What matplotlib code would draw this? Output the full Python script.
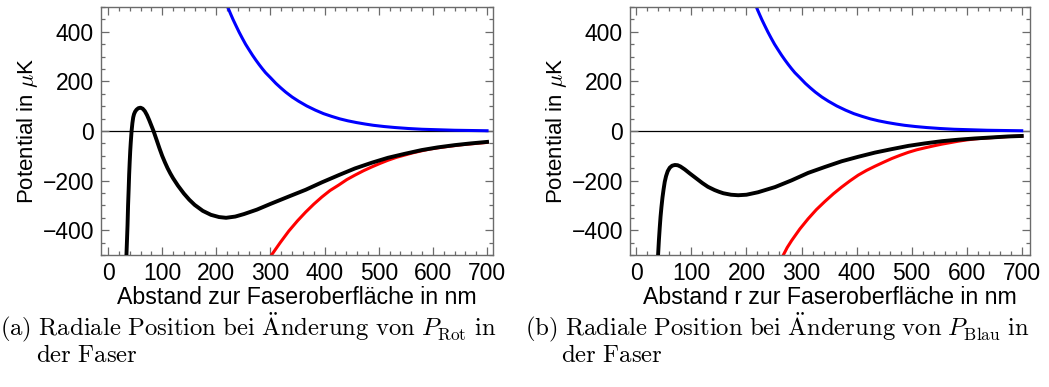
import numpy as np
import matplotlib.pyplot as plt
from matplotlib.ticker import MultipleLocator

# values, distance in nm, potential in microkelvin
# (a) variation of P_Rot
a_black_x = [34, 35, 36, 37, 38, 39, 40, 41, 42, 43.5, 45, 46.5, 48, 50, 52.6, 56, 60, 64, 68, 72,
             76, 80, 84, 90, 95, 100, 105, 110, 115, 120, 129, 140, 150, 160, 175, 190, 205, 218,
             235, 251, 275, 300, 334, 365, 395, 426, 456, 487, 517, 548, 579, 609, 640, 670, 700]
a_black_y = [-500, -440, -380, -300, -240, -175, -125, -80, -45, 0, 32, 55, 68, 78, 86, 92, 94, 90,
             80, 64, 44, 22, 0, -38, -70, -100, -126, -150, -171, -190, -220, -252, -277, -298,
             -322, -338, -347, -350, -345, -335, -317, -294, -264, -237, -207, -178, -151, -128,
             -108, -92, -77, -66, -57, -50, -44]
a_red_x = [302, 318, 334, 350, 365, 380, 395, 410, 426, 441, 456, 472, 487, 502, 517, 533, 548, 563,
           579, 594, 609, 625, 640, 655, 670, 685, 700]
a_red_y = [-500, -450, -403, -362, -327, -295, -266, -240, -218, -196, -178, -160, -145, -131, -118,
           -106, -97, -88, -80, -73, -68, -63, -59, -55, -52, -49, -46]
a_blue_x = [221, 226, 231, 236, 242, 248, 254, 260, 267, 273, 279, 285, 291, 300, 310, 319, 328, 340,
            352, 367, 383, 398, 413, 428, 443, 459, 475, 490, 510, 530, 555, 580, 610, 640, 670, 700]
a_blue_y = [500, 474, 449, 426, 399, 374, 350, 329, 305, 286, 268, 251, 235, 215, 192, 174, 157, 137,
            120, 101, 84, 70, 59, 49, 41, 34, 28, 23, 18, 14, 10, 7, 5, 3, 2, 1]

# (b) variation of P_Blau
b_black_x = [39.5, 41, 42.5, 44, 45.6, 47.5, 49.5, 51.6, 54, 57, 60.7, 65, 70, 75, 80, 88, 97, 110,
             120, 130, 142, 150, 158, 172, 185, 200, 221, 252, 282, 312, 342.5, 373, 403, 433.5,
             464, 494, 524, 555, 585, 615, 645, 675, 700]
b_black_y = [-500, -440, -390, -345, -307, -268, -235, -205, -182, -162, -148, -140, -137, -138,
             -143, -155, -171, -193, -210, -225, -238, -245, -251, -257, -259, -257, -247, -226,
             -199, -169, -145, -122, -104, -87, -73, -60, -50, -41, -35, -30, -26, -22, -20]
b_red_x = [267, 274, 282, 297, 312, 327, 342.5, 358, 373, 388, 403, 418, 433.5, 449, 464, 479, 494,
           509, 524, 540, 555, 570, 585, 600, 615, 630, 645, 670, 700]
b_red_y = [-500, -470, -442, -395, -354, -317, -284, -253, -226, -201, -178, -159, -142, -126, -111,
           -98, -86, -76, -68, -60, -53, -47, -41, -36, -32, -29, -27, -23, -20]
b_blue_x = [218, 223, 228, 233, 239, 245, 251, 257, 264, 270, 276, 282, 288, 297, 307, 316, 325, 337,
            349, 364, 380, 395, 410, 425, 440, 456, 472, 487, 507, 527, 552, 577, 607, 637, 667, 700]
b_blue_y = [500, 474, 449, 426, 399, 374, 350, 329, 305, 286, 268, 251, 235, 215, 192, 174, 157, 137,
            120, 101, 84, 70, 59, 49, 41, 34, 28, 23, 18, 14, 10, 7, 5, 3, 2, 1]

xlabels = ['Abstand zur Faseroberfläche in nm', 'Abstand r zur Faseroberfläche in nm']
cap_line1 = [r'$\mathrm{(a)\ Radiale\ Position\ bei\ \ddot{A}nderung\ von\ }P_{\mathrm{Rot}}\mathrm{\ in}$',
             r'$\mathrm{(b)\ Radiale\ Position\ bei\ \ddot{A}nderung\ von\ }P_{\mathrm{Blau}}\mathrm{\ in}$']
cap_line2 = r'$\mathrm{der\ Faser}$'

plt.rcParams['font.family'] = ['Liberation Sans', 'DejaVu Sans']
plt.rcParams['mathtext.fontset'] = 'cm'

fig = plt.figure(figsize=(10.49, 3.87), dpi=100)
W, H = 1049.0, 387.0

def frame_axes(x0, x1, y0, y1):
    return fig.add_axes([x0 / W, 1 - y1 / H, (x1 - x0) / W, (y1 - y0) / H])

ax_a = frame_axes(101, 493, 7, 255)
ax_b = frame_axes(630, 1030, 7, 255)

panels = [
    (ax_a, a_black_x, a_black_y, a_red_x, a_red_y, a_blue_x, a_blue_y, (-13, 711)),
    (ax_b, b_black_x, b_black_y, b_red_x, b_red_y, b_blue_x, b_blue_y, (-11.5, 715)),
]

frame_col = '#6b6b6b'
for i, (ax, kx, ky, rx, ry, bx, by, xl) in enumerate(panels):
    ax.axhline(0, color='black', lw=0.9, zorder=1)
    ax.plot(bx, by, color='#0000ff', lw=2.2, zorder=2)
    ax.plot(rx, ry, color='#ff0000', lw=2.2, zorder=2)
    ax.plot(kx, ky, color='black', lw=2.8, zorder=3)
    ax.set_xlim(*xl)
    ax.set_ylim(-500, 500)
    ax.xaxis.set_major_locator(MultipleLocator(100))
    ax.xaxis.set_minor_locator(MultipleLocator(20))
    ax.yaxis.set_major_locator(MultipleLocator(200))
    ax.yaxis.set_minor_locator(MultipleLocator(50))
    ax.tick_params(which='both', direction='in', top=True, right=True, color=frame_col,
                   labelsize=16.5, width=0.9)
    ax.tick_params(which='major', length=6, pad=5)
    ax.tick_params(which='minor', length=3.2)
    for s in ax.spines.values():
        s.set_color(frame_col)
        s.set_linewidth(1.0)
    ax.set_yticks([-400, -200, 0, 200, 400])
    ax.set_yticklabels(['\u2212400', '\u2212200', '0', '200', '400'])
    ax.set_xlabel(xlabels[i], fontsize=16.7, labelpad=1)
    ax.set_ylabel(r'Potential in $\mu$K', fontsize=16, labelpad=2)

# captions below the panels, LaTeX-like serif
for x0, cap in [(0, cap_line1[0]), (525, cap_line1[1])]:
    fig.text(x0 / W, 1 - 336 / H, cap, fontsize=17.8, va='baseline', ha='left')
    fig.text((x0 + 36) / W, 1 - 362 / H, cap_line2, fontsize=17.8, va='baseline', ha='left')

plt.savefig('out.png', dpi=100)
